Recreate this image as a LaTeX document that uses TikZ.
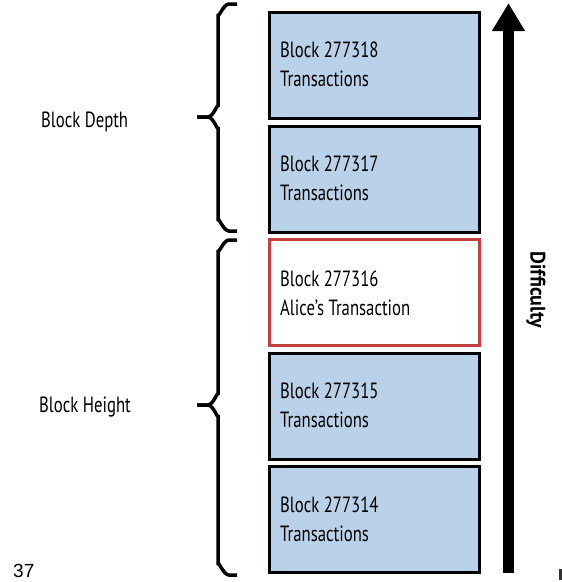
\documentclass[tikz,border=0pt]{standalone}
\usepackage{fontspec}
\setmainfont{PT Sans}[FakeStretch=0.76]
\newfontfamily\difffont{PT Sans}[FakeStretch=0.95]
\newfontfamily\numfont{Liberation Sans}
\usetikzlibrary{arrows.meta}
\definecolor{blockblue}{RGB}{185,210,233}
\definecolor{alicered}{RGB}{196,62,62}
\begin{document}
\begin{tikzpicture}[x=1pt,y=-1pt,
  blockbox/.style={draw=black, line width=3pt, fill=blockblue, minimum width=210pt, minimum height=106pt, anchor=north west, inner sep=0pt},
  alicebox/.style={blockbox, draw=alicered, line width=2.5pt, fill=white},
  btext/.style={font=\fontsize{22}{26}\selectfont, anchor=base west, inner sep=0pt},
  sidelabel/.style={font=\fontsize{22}{26}\selectfont, anchor=base west, inner sep=0pt},
  bracepath/.style={line width=3.5pt, draw=black}]
\useasboundingbox (0,0) rectangle (562,582);

% blocks
\node[blockbox] (b1) at (268,11) {};
\node[blockbox] (b2) at (268,124.5) {};
\node[alicebox] (b3) at (268,238) {};
\node[blockbox] (b4) at (268,351.5) {};
\node[blockbox] (b5) at (268,465) {};

\node[btext] (b1a) at (280,57) {Block 277318};
\node[btext] (b1b) at (280,86) {Transactions};
\node[btext] (b2a) at (280,171) {Block 277317};
\node[btext] (b2b) at (280,200) {Transactions};
\node[btext] (b3a) at (280,286) {Block 277316};
\node[btext] (b3b) at (280,315) {Alice’s Transaction};
\node[btext] (b4a) at (280,398) {Block 277315};
\node[btext] (b4b) at (280,427) {Transactions};
\node[btext] (b5a) at (280,512) {Block 277314};
\node[btext] (b5b) at (280,541) {Transactions};

% difficulty arrow
\coordinate (arrbot) at (508.5,573);
\coordinate (arrtop) at (508.5,3);
\draw[line width=11pt, -{Triangle[length=28pt,width=31pt]}] (arrbot) -- (arrtop);
\node[font=\difffont\bfseries\fontsize{21}{24}\selectfont, rotate=-90, inner sep=0pt] (diff) at (536,290) {Difficulty};

% braces
\draw[bracepath] (237,4) -- (229,4) to[out=180,in=-90] (218,14) -- (218,107)
  to[out=90,in=0] (208,117) -- (197,117);
\draw[bracepath] (197,117) -- (208,117) to[out=0,in=-90] (218,127) -- (218,221)
  to[out=90,in=180] (229,231) -- (237,231);
\draw[bracepath] (237,240) -- (229,240) to[out=180,in=-90] (218,250) -- (218,395)
  to[out=90,in=0] (208,405) -- (197,405);
\draw[bracepath] (197,405) -- (208,405) to[out=0,in=-90] (218,415) -- (218,565)
  to[out=90,in=180] (229,575) -- (237,575);

\node[sidelabel] (depth) at (41,127) {Block Depth};
\node[sidelabel] (height) at (39,412) {Block Height};

% page artefacts
\node[font=\numfont\fontsize{19}{22}\selectfont, anchor=base west, inner sep=0pt] (pg) at (13,577) {37};
\fill[black!80] (559,569) rectangle (562,580);
\end{tikzpicture}
\end{document}
